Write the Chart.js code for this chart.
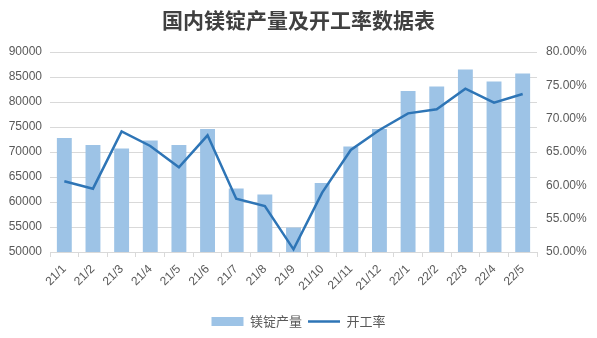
<!DOCTYPE html>
<html>
<head>
<meta charset="utf-8">
<script src="https://cdn.jsdelivr.net/npm/chart.js@4"></script>
<style>
  body { margin: 0; background: #fff; }
  canvas { display: block; }
</style>
</head>
<body>
<canvas id="myChart" width="597" height="338"></canvas>
<script>
// months 21/1 .. 22/5
let months = ['21/1','21/2','21/3','21/4','21/5','21/6','21/7','21/8','21/9','21/10','21/11','21/12','22/1','22/2','22/3','22/4','22/5']

// magnesium ingot output (tons)
let output = [72800,71400,70700,72300,71400,74600,62700,61500,54900,63800,71100,74600,82200,83100,86500,84100,85700]

// operating rate (%)
let rate = [60.6,59.5,68.1,65.9,62.7,67.5,58.0,56.9,50.4,58.9,65.3,68.3,70.8,71.4,74.5,72.4,73.7]

let gray = '#595959'
let gridColor = '#d9d9d9'

const ctx = document.getElementById('myChart')

let myChart = new Chart(ctx, {
  type: 'bar',
  data: {
    labels: months,
    datasets: [{
      label: '镁锭产量',
      data: output,
      backgroundColor: '#9dc3e6',
      barPercentage: 0.52,
      categoryPercentage: 1,
      yAxisID: 'y',
      order: 2
    }, {
      type: 'line',
      label: '开工率',
      data: rate,
      borderColor: '#2e75b6',
      backgroundColor: '#2e75b6',
      borderWidth: 2.5,
      pointRadius: 0,
      tension: 0,
      yAxisID: 'y1',
      order: 1
    }]
  },
  options: {
    responsive: false,
    animation: false,
    layout: { padding: 0 },
    scales: {
      x: {
        grid: { drawOnChartArea: false, drawTicks: true, tickLength: 5, color: gridColor, offset: true },
        border: { color: gridColor },
        ticks: {
          color: gray,
          font: { family: 'Liberation Sans', size: 12 },
          minRotation: 45,
          maxRotation: 45,
          padding: 5
        },
        afterFit: function(scale) { scale.height = 57 }
      },
      y: {
        position: 'left',
        min: 50000,
        max: 90000,
        grid: { color: gridColor, drawTicks: false },
        border: { display: false },
        ticks: {
          stepSize: 5000,
          color: gray,
          padding: 8,
          font: { family: 'Liberation Sans', size: 12 },
          callback: function(v) { return v }
        },
        afterFit: function(scale) { scale.width = 50 }
      },
      y1: {
        position: 'right',
        min: 50,
        max: 80,
        grid: { drawOnChartArea: false, drawTicks: false },
        border: { display: false },
        ticks: {
          stepSize: 5,
          color: gray,
          padding: 9,
          font: { family: 'Liberation Sans', size: 12 },
          callback: function(v) { return v.toFixed(2) + '%' }
        },
        afterFit: function(scale) { scale.width = 60 }
      }
    },
    plugins: {
      title: {
        display: true,
        text: '国内镁锭产量及开工率数据表',
        color: '#404040',
        font: { family: 'Noto Sans CJK SC', size: 21, weight: 'bold' },
        padding: { top: 7.5, bottom: 19.3 }
      },
      legend: {
        position: 'bottom',
        labels: {
          color: gray,
          font: { family: 'Noto Sans CJK SC', size: 13 },
          usePointStyle: true,
          pointStyleWidth: 32,
          boxHeight: 9,
          padding: 6,
          sort: function(a, b) { return a.datasetIndex - b.datasetIndex },
          generateLabels: function(chart) {
            let items = Chart.defaults.plugins.legend.labels.generateLabels(chart)
            items.forEach(function(it) {
              if (it.datasetIndex === 0) {
                it.pointStyle = 'rect'
                it.lineWidth = 0
              } else {
                it.pointStyle = 'line'
                it.lineWidth = 2.5
              }
            })
            return items
          }
        }
      },
      tooltip: { enabled: false }
    }
  }
})
</script>
</body>
</html>
